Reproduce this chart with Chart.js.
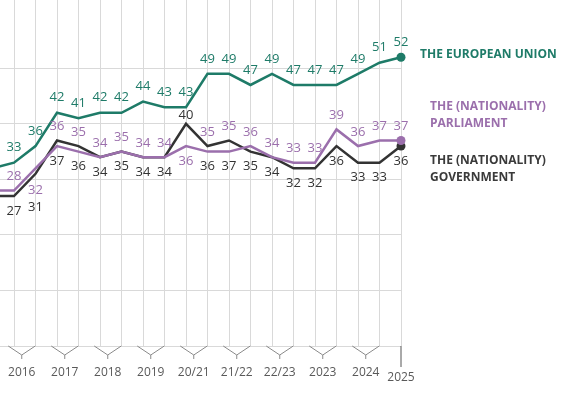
<!DOCTYPE html>
<html>
<head>
<meta charset="utf-8">
<script src="https://cdn.jsdelivr.net/npm/chart.js@4.4.1/dist/chart.umd.min.js"></script>
<style>
  body { margin: 0; background: #fff; width: 580px; height: 397px; overflow: hidden; position: relative; font-family: "Open Sans", sans-serif; }
  #trust { position: absolute; left: -40px; top: 0; }
  .legend { position: absolute; font-weight: bold; font-size: 12px; line-height: 17px; white-space: nowrap; }
</style>
</head>
<body>
<canvas id="trust" width="620" height="397"></canvas>
<div class="legend" style="left:420px; top:45px; color:#1e7b68;">THE EUROPEAN UNION</div>
<div class="legend" style="left:430px; top:97px; color:#9b6fac;">THE (NATIONALITY)<br>PARLIAMENT</div>
<div class="legend" style="left:430px; top:151px; color:#3a3a3a;">THE (NATIONALITY)<br>GOVERNMENT</div>
<script>
// one entry per survey wave, first one is the wave before 2016 (cut off on the left)
const waves = ['', '2016', '2016', '2017', '2017', '2018', '2018', '2019', '2019', '20/21', '20/21',
  '21/22', '21/22', '22/23', '22/23', '2023', '2023', '2024', '2024', '2025'];

const euTrust = [32, 33, 36, 42, 41, 42, 42, 44, 43, 43, 49, 49, 47, 49, 47, 47, 47, 49, 51, 52];
const parliamentTrust = [28, 28, 32, 36, 35, 34, 35, 34, 34, 36, 35, 35, 36, 34, 33, 33, 39, 36, 37, 37];
const governmentTrust = [27, 27, 31, 37, 36, 34, 35, 34, 34, 40, 36, 37, 35, 34, 32, 32, 36, 33, 33, 36];

const GREEN = '#1e7b68';
const PURPLE = '#9b6fac';
const DARK = '#333333';

// waves where the labels swap their usual place
const parliamentLabelBelow = [2];
const governmentLabelAbove = [9];

const last = waves.length - 1;
const endDot = ctx => ctx.dataIndex === last ? 4.5 : 0;

// value labels next to the points
const valueLabels = {
  id: 'valueLabels',
  afterDatasetsDraw(chart) {
    const c = chart.ctx;
    const green = chart.getDatasetMeta(0).data;
    const purple = chart.getDatasetMeta(1).data;
    const dark = chart.getDatasetMeta(2).data;
    c.save();
    c.font = '13px "Open Sans"';
    c.textAlign = 'center';
    c.textBaseline = 'middle';
    for (let i = 0; i < waves.length; i++) {
      c.fillStyle = GREEN;
      c.fillText(euTrust[i], green[i].x, green[i].y - 15);

      const top = Math.min(purple[i].y, dark[i].y);
      const bottom = Math.max(purple[i].y, dark[i].y);
      if (governmentLabelAbove.includes(i)) {
        c.fillStyle = DARK;
        c.fillText(governmentTrust[i], dark[i].x, top - 9);
        c.fillStyle = PURPLE;
        c.fillText(parliamentTrust[i], purple[i].x, bottom + 15);
      } else if (parliamentLabelBelow.includes(i)) {
        c.fillStyle = PURPLE;
        c.fillText(parliamentTrust[i], purple[i].x, bottom + 16);
        c.fillStyle = DARK;
        c.fillText(governmentTrust[i], dark[i].x, bottom + 33);
      } else {
        c.fillStyle = PURPLE;
        c.fillText(parliamentTrust[i], purple[i].x, top - 14);
        c.fillStyle = DARK;
        c.fillText(governmentTrust[i], dark[i].x, bottom + 15);
      }
    }
    c.restore();
  }
};

// year labels with the little brackets joining two waves
const yearAxis = {
  id: 'yearAxis',
  afterDraw(chart) {
    const c = chart.ctx;
    const x = chart.scales.x;
    const base = chart.chartArea.bottom;
    c.save();
    c.font = '12px "Open Sans"';
    c.textAlign = 'center';
    c.textBaseline = 'middle';
    let i = 0;
    while (i < waves.length) {
      const name = waves[i];
      let j = i;
      while (j + 1 < waves.length && waves[j + 1] === name) j++;
      if (name !== '') {
        const x1 = x.getPixelForValue(i);
        const x2 = x.getPixelForValue(j);
        c.lineWidth = 1;
        if (j > i) {
          const mid = (x1 + x2) / 2 - 3;
          c.strokeStyle = '#8a8a8a';
          c.beginPath();
          c.moveTo(mid - 13.5, base);
          c.lineTo(mid, base + 9);
          c.lineTo(mid + 13.5, base);
          c.moveTo(mid, base + 9);
          c.lineTo(mid, base + 13);
          c.stroke();
          c.fillStyle = '#595959';
          c.fillText(name, mid, base + 27);
        } else {
          c.strokeStyle = '#555';
          c.beginPath();
          c.moveTo(x1, base);
          c.lineTo(x1, base + 21);
          c.stroke();
          c.fillStyle = '#595959';
          c.fillText(name, x1, base + 32);
        }
      }
      i = j + 1;
    }
    c.restore();
  }
};

new Chart(document.getElementById('trust'), {
  type: 'line',
  data: {
    labels: waves,
    datasets: [
      { data: euTrust, borderColor: GREEN, backgroundColor: GREEN },
      { data: parliamentTrust, borderColor: PURPLE, backgroundColor: PURPLE },
      { data: governmentTrust, borderColor: DARK, backgroundColor: DARK }
    ].map(d => Object.assign(d, {
      borderWidth: 2.5,
      tension: 0,
      pointRadius: endDot,
      pointHoverRadius: endDot,
      pointBorderWidth: 0,
      clip: false
    }))
  },
  options: {
    responsive: false,
    animation: false,
    devicePixelRatio: 1,
    layout: { autoPadding: false, padding: { left: 32.5, right: 179, top: 0, bottom: 51 } },
    plugins: { legend: { display: false }, tooltip: { enabled: false } },
    scales: {
      x: {
        ticks: { display: false },
        grid: { color: '#d9d9d9', drawTicks: false },
        border: { display: false }
      },
      y: {
        min: 0,
        max: 62.3,
        afterBuildTicks: scale => { scale.ticks = scale.ticks.filter(t => t.value % 10 === 0); },
        ticks: { display: false, stepSize: 10 },
        grid: { color: '#d9d9d9', drawTicks: false },
        border: { display: false }
      }
    }
  },
  plugins: [valueLabels, yearAxis]
});
</script>
</body>
</html>
